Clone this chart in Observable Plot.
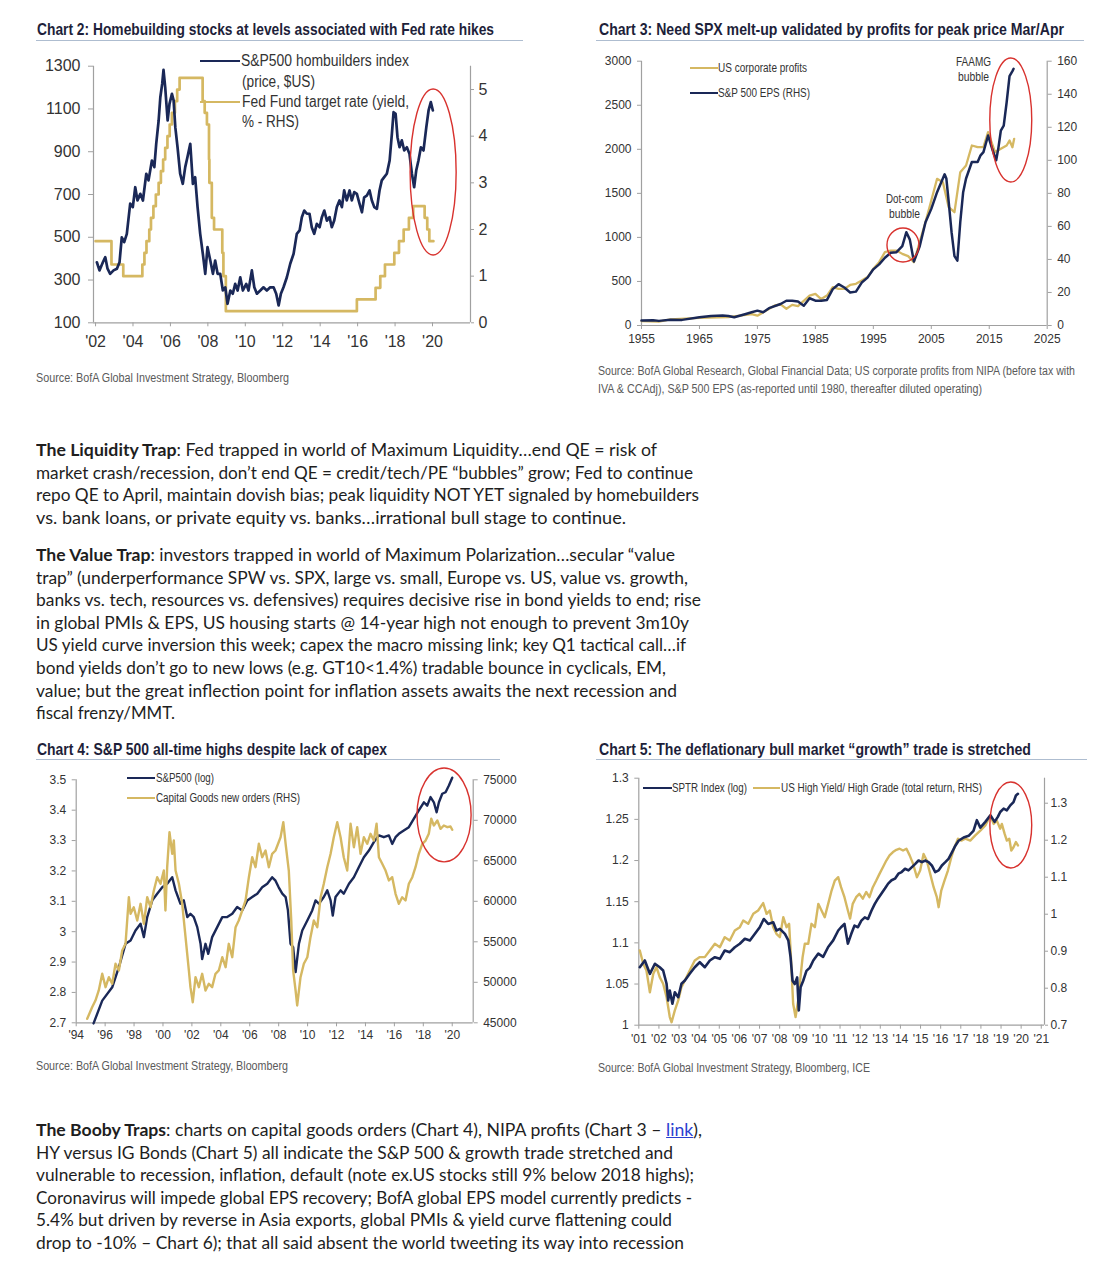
<!DOCTYPE html>
<html><head><meta charset="utf-8">
<script src="https://cdn.jsdelivr.net/npm/d3@7"></script>
<script src="https://cdn.jsdelivr.net/npm/@observablehq/plot@0.6"></script>
<style>
body{margin:0;background:#fff;}
#page{position:relative;width:1106px;height:1280px;overflow:hidden;background:#fff;}
.abs{position:absolute;white-space:nowrap;}
.fit{display:inline-block;transform-origin:0 50%;white-space:nowrap;}
.title{font-family:"Liberation Sans Narrow","Liberation Sans",sans-serif;font-weight:bold;font-size:17px;color:#1e1f3a;}
.src{font-family:"Liberation Sans Narrow","Liberation Sans",sans-serif;font-size:12px;color:#5a5a5a;}
.leg{font-family:"Liberation Sans Narrow","Liberation Sans",sans-serif;color:#333;}
.para{font-family:Lato,"Open Sans",sans-serif;font-size:17px;color:#1e1e1e;}
.para a{color:#2b3fd0;text-decoration:underline;}
.rule{position:absolute;height:1px;background:#aebdd0;}
</style></head>
<body><div id="page"></div>
<script>
// ---------------- DATA ----------------
// Chart 2: S&P500 homebuilders index and Fed funds target rate
const c2HbYear = [2002.07,2002.21,2002.39,2002.52,2002.64,2002.78,2002.96,2003.14,2003.28,2003.40,
  2003.53,2003.67,2003.85,2003.99,2004.12,2004.24,2004.39,2004.53,2004.71,2004.83,
  2005.01,2005.14,2005.24,2005.37,2005.46,2005.56,2005.63,2005.72,2005.85,2005.95,
  2006.08,2006.17,2006.26,2006.38,2006.52,2006.66,2006.79,2006.91,2007.06,2007.20,
  2007.32,2007.45,2007.59,2007.73,2007.86,2007.98,2008.13,2008.27,2008.39,2008.52,
  2008.66,2008.80,2008.93,2009.05,2009.20,2009.33,2009.46,2009.59,2009.73,2009.87,
  2010.05,2010.17,2010.35,2010.48,2010.62,2010.80,2010.97,2011.15,2011.33,2011.51,
  2011.65,2011.78,2011.90,2012.04,2012.22,2012.40,2012.58,2012.75,2012.90,2013.02,
  2013.15,2013.29,2013.43,2013.55,2013.68,2013.82,2013.97,2014.09,2014.22,2014.36,
  2014.50,2014.62,2014.75,2014.89,2015.03,2015.16,2015.28,2015.42,2015.57,2015.69,
  2015.82,2015.96,2016.10,2016.23,2016.35,2016.49,2016.64,2016.76,2016.89,2017.03,
  2017.17,2017.29,2017.42,2017.56,2017.71,2017.83,2017.92,2018.03,2018.13,2018.24,
  2018.36,2018.49,2018.63,2018.77,2018.90,2019.02,2019.13,2019.25,2019.38,2019.52,
  2019.67,2019.79,2019.91,2020.02];
const c2HbIndex = [383,345,383,407,353,329,345,353,383,500,
  477,516,657,641,734,672,703,672,797,766,
  859,828,937,1046,1155,1218,1283,1202,1046,1124,
  1171,1140,1015,921,797,750,828,875,937,750,
  781,641,516,423,329,454,391,329,391,329,
  329,251,266,189,251,236,282,251,313,251,
  282,251,345,266,236,251,266,251,266,266,
  236,181,236,266,313,376,423,516,532,594,
  625,610,610,547,516,563,547,594,625,578,
  594,547,578,641,672,641,719,672,719,672,
  711,703,657,617,687,695,719,672,641,633,
  719,766,781,797,859,984,1085,1077,968,921,
  953,906,921,890,797,734,812,859,921,906,
  1015,1093,1132,1093];
const c2FedYear = [2002.0,2002.85,2003.48,2004.5,2004.61,2004.72,2004.87,2004.96,2005.09,2005.22,
  2005.37,2005.49,2005.61,2005.72,2005.84,2005.96,2006.08,2006.24,2006.36,2006.49,
  2007.72,2007.83,2007.95,2008.06,2008.08,2008.21,2008.33,2008.77,2008.83,2008.96,
  2015.96,2016.96,2017.21,2017.46,2017.96,2018.21,2018.46,2018.74,2018.97,2019.58,
  2019.72,2019.83,2020.05];
const c2FedRate = [1.75,1.25,1.0,1.25,1.5,1.75,2.0,2.25,2.5,2.75,
  3.0,3.25,3.5,3.75,4.0,4.25,4.5,4.75,5.0,5.25,
  4.75,4.5,4.25,3.5,3.0,2.25,2.0,1.5,1.0,0.25,
  0.5,0.75,1.0,1.25,1.5,1.75,2.0,2.25,2.5,2.25,
  2.0,1.75,1.75];
const c2LeftTicks = [100,300,500,700,900,1100,1300];
const c2RightTicks = [0,1,2,3,4,5];
const c2XTicks = [2002,2004,2006,2008,2010,2012,2014,2016,2018,2020];

// Chart 3: US corporate profits and S&P 500 EPS
const c3EpsYear = [1955,1957,1958,1960,1962,1965,1967,1969,1970,1971,
  1973,1974,1975,1976,1977,1979,1980,1981,1982,1983,
  1984,1985,1986,1987,1988,1989,1990,1991,1992,1993,
  1994,1995,1996,1997,1998,1999,2000,2000.7,2001.3,2002,
  2003,2004,2005,2006,2007.3,2007.6,2008,2008.5,2009,2009.5,
  2010,2010.5,2011,2012,2013,2013.5,2014,2014.8,2015.5,2016.2,
  2016.6,2017,2017.5,2018,2018.5,2019,2019.2];
const c3Eps = [3.0,3.2,2.8,3.5,3.4,5.0,5.8,6.0,5.8,5.0,
  7.0,8.0,9.0,8.0,10.5,13,15,15,14.5,12,
  16.5,15,15,15.5,22,25,23,20,20.5,26,
  29,34,37,41,44,44.4,48,56.5,52,38.7,
  48,62.5,70.6,80.7,91.5,89,75,56.5,42,39.3,
  62.5,80.7,89,99,99,103,105,115,107,100,
  108,118,121,135,151,154,155.4];
const c3ProfYear = [1955,1958,1960,1965,1970,1974,1975,1978,1979,1980,
  1981,1982,1984,1985,1986,1987,1988,1989,1990,1991,
  1992,1993,1994,1995,1996,1997,1998,1999,2000,2001,
  2002,2003,2004,2005,2006,2007,2008,2009,2010,2011,
  2012,2013,2014,2014.8,2015.5,2016,2017,2018,2018.5,2019,
  2019.3];
const c3Profits = [50,45,70,87,95,130,112,227,240,190,
  234,220,340,360,300,340,435,416,416,460,
  473,510,550,643,719,832,851,851,813,787,
  719,946,1173,1419,1665,1627,1343,1286,1740,1816,
  2043,2024,2024,2194,2062,1967,2005,2043,2100,2024,
  2119];
const c3LeftTicks = [0,500,1000,1500,2000,2500,3000];
const c3RightTicks = [0,20,40,60,80,100,120,140,160];
const c3XTicks = [1955,1965,1975,1985,1995,2005,2015,2025];

// Chart 4: S&P500 (log) and capital goods new orders
const c4SpxYear = [1995.20,1995.80,1996.49,1996.95,1997.41,1997.76,1998.10,1998.45,1998.68,1998.91,
  1999.26,1999.60,1999.95,2000.29,2000.64,2000.87,2001.21,2001.44,2001.68,2001.90,
  2002.13,2002.37,2002.60,2002.71,2002.94,2003.13,2003.40,2003.75,2004.10,2004.44,
  2004.79,2005.13,2005.48,2005.83,2006.17,2006.52,2006.86,2007.21,2007.55,2007.78,
  2008.00,2008.25,2008.48,2008.64,2008.82,2009.00,2009.17,2009.40,2009.63,2009.98,
  2010.32,2010.55,2010.78,2011.12,2011.36,2011.59,2011.74,2011.93,2012.28,2012.50,
  2012.86,2013.20,2013.54,2013.89,2014.24,2014.58,2014.93,2015.27,2015.62,2015.85,
  2016.08,2016.31,2016.65,2017.00,2017.35,2017.69,2018.04,2018.27,2018.50,2018.73,
  2018.92,2019.08,2019.31,2019.54,2019.77,2020.00];
const c4SpxLog = [2.698,2.773,2.817,2.883,2.960,2.971,3.004,3.026,2.982,3.048,
  3.103,3.125,3.146,3.158,3.179,3.136,3.092,3.103,3.048,3.059,
  3.048,3.015,2.960,2.910,2.960,2.927,2.982,3.015,3.048,3.048,
  3.059,3.081,3.070,3.103,3.114,3.125,3.146,3.158,3.179,3.168,
  3.146,3.125,3.114,3.070,2.960,2.949,2.867,2.960,3.004,3.037,
  3.070,3.103,3.092,3.114,3.136,3.103,3.053,3.114,3.136,3.125,
  3.158,3.179,3.212,3.245,3.267,3.295,3.317,3.311,3.317,3.289,
  3.311,3.322,3.333,3.344,3.372,3.399,3.426,3.415,3.443,3.426,
  3.393,3.426,3.454,3.459,3.481,3.507];
const c4CapYear = [1994.76,1995.10,1995.33,1995.56,1995.80,1996.03,1996.26,1996.49,1996.72,1996.95,
  1997.18,1997.41,1997.64,1997.76,1997.98,1998.22,1998.45,1998.68,1998.91,1999.14,
  1999.37,1999.60,1999.83,2000.06,2000.17,2000.29,2000.45,2000.64,2000.75,2000.87,
  2001.10,2001.33,2001.56,2001.79,2001.90,2002.06,2002.25,2002.48,2002.71,2002.94,
  2003.17,2003.40,2003.63,2003.86,2004.10,2004.33,2004.55,2004.79,2005.02,2005.24,
  2005.48,2005.71,2005.94,2006.17,2006.40,2006.63,2006.86,2007.09,2007.32,2007.55,
  2007.78,2008.13,2008.32,2008.48,2008.70,2008.87,2009.00,2009.17,2009.28,2009.51,
  2009.74,2009.98,2010.20,2010.43,2010.67,2010.90,2011.12,2011.36,2011.59,2011.81,
  2012.05,2012.28,2012.50,2012.74,2012.97,2013.20,2013.43,2013.66,2013.89,2014.12,
  2014.35,2014.58,2014.77,2014.93,2015.16,2015.39,2015.62,2015.85,2016.08,2016.31,
  2016.54,2016.77,2017.00,2017.24,2017.46,2017.69,2017.93,2018.16,2018.38,2018.55,
  2018.73,2018.97,2019.19,2019.42,2019.66,2019.88,2020.00];
const c4CapOrders = [45494,46925,47750,48990,51050,49400,50630,49815,52285,51460,
  53925,54750,60500,58460,59270,57630,59690,57220,60500,59270,
  61330,62975,62160,63800,58865,64210,68530,65860,67500,63800,
  62160,59690,55570,51460,49400,47540,50630,49400,51050,48990,
  49815,49400,51050,51460,53100,51860,54750,53100,56800,57630,
  58865,60100,62975,65445,64210,67100,65445,66270,64210,65860,
  66270,67910,69770,67100,63800,57630,51460,48990,47140,50630,
  52285,53100,55570,57630,56800,60500,62160,64210,65860,67910,
  69770,67910,65445,63800,69570,66680,69150,65860,67910,67100,
  68335,67500,69570,65445,64630,63800,62570,62975,60925,59690,
  60500,60100,62160,62975,64210,65860,67100,67500,68335,70190,
  69360,69980,68950,69360,69150,69240,68830];
const c4LeftTicks = [2.7,2.8,2.9,3.0,3.1,3.2,3.3,3.4,3.5];
const c4RightTicks = [45000,50000,55000,60000,65000,70000,75000];
const c4XTicks = [1994,1996,1998,2000,2002,2004,2006,2008,2010,2012,2014,2016,2018,2020];

// Chart 5: SPTR (log) and US high yield / high grade total return
const c5SptrYear = [2001.05,2001.30,2001.55,2001.80,2002.04,2002.21,2002.38,2002.46,2002.54,2002.67,
  2002.79,2002.96,2003.12,2003.29,2003.53,2003.78,2004.03,2004.28,2004.53,2004.78,
  2005.03,2005.27,2005.52,2005.77,2006.02,2006.27,2006.52,2006.77,2007.01,2007.21,
  2007.43,2007.68,2007.84,2008.01,2008.26,2008.43,2008.54,2008.64,2008.75,2008.87,
  2008.95,2009.04,2009.17,2009.33,2009.50,2009.67,2009.92,2010.16,2010.41,2010.66,
  2010.91,2011.05,2011.22,2011.39,2011.56,2011.72,2011.89,2012.06,2012.23,2012.39,
  2012.56,2012.72,2012.89,2013.06,2013.23,2013.39,2013.56,2013.73,2013.90,2014.06,
  2014.23,2014.40,2014.57,2014.74,2014.90,2015.07,2015.23,2015.40,2015.56,2015.73,
  2015.90,2016.06,2016.23,2016.39,2016.56,2016.73,2016.89,2017.14,2017.39,2017.63,
  2017.80,2017.97,2018.22,2018.47,2018.68,2018.84,2018.96,2019.13,2019.29,2019.46,
  2019.62,2019.74,2019.84];
const c5SptrLog = [1.0704,1.0786,1.0624,1.0746,1.0704,1.0664,1.0503,1.030,1.042,1.026,
  1.040,1.034,1.0503,1.0543,1.0624,1.0704,1.0765,1.0704,1.0786,1.0826,
  1.0806,1.0907,1.0887,1.0947,1.0989,1.105,1.1029,1.111,1.119,1.129,
  1.123,1.125,1.115,1.117,1.111,1.103,1.083,1.054,1.050,1.058,
  1.018,1.046,1.054,1.066,1.070,1.0786,1.087,1.083,1.095,1.103,
  1.115,1.119,1.123,1.099,1.111,1.121,1.119,1.127,1.131,1.129,
  1.139,1.147,1.154,1.160,1.166,1.172,1.176,1.178,1.184,1.186,
  1.190,1.188,1.192,1.196,1.200,1.198,1.200,1.198,1.194,1.186,
  1.188,1.194,1.198,1.202,1.210,1.218,1.224,1.228,1.230,1.236,
  1.249,1.240,1.247,1.255,1.247,1.253,1.259,1.263,1.261,1.267,
  1.271,1.279,1.281];
const c5HyYear = [2001.05,2001.22,2001.38,2001.55,2001.72,2001.88,2002.04,2002.21,2002.38,2002.54,
  2002.63,2002.79,2002.96,2003.12,2003.29,2003.53,2003.78,2004.03,2004.28,2004.53,
  2004.78,2005.03,2005.27,2005.52,2005.77,2006.02,2006.19,2006.44,2006.69,2006.93,
  2007.18,2007.35,2007.51,2007.68,2007.84,2008.01,2008.18,2008.34,2008.47,2008.56,
  2008.67,2008.79,2008.92,2009.00,2009.14,2009.25,2009.42,2009.58,2009.75,2009.92,
  2010.08,2010.24,2010.41,2010.58,2010.74,2010.91,2011.05,2011.22,2011.39,2011.50,
  2011.63,2011.80,2011.96,2012.13,2012.30,2012.46,2012.63,2012.80,2012.96,2013.13,
  2013.30,2013.46,2013.63,2013.80,2013.96,2014.13,2014.30,2014.46,2014.63,2014.82,
  2014.98,2015.15,2015.31,2015.48,2015.65,2015.81,2015.90,2016.03,2016.19,2016.36,
  2016.53,2016.69,2016.86,2017.03,2017.22,2017.47,2017.72,2017.97,2018.22,2018.47,
  2018.63,2018.79,2018.96,2019.04,2019.18,2019.29,2019.41,2019.51,2019.62,2019.74,
  2019.84];
const c5HyHg = [0.902,0.866,0.848,0.789,0.839,0.857,0.830,0.812,0.776,0.722,
  0.708,0.740,0.767,0.803,0.821,0.848,0.875,0.884,0.884,0.902,
  0.920,0.911,0.938,0.929,0.956,0.965,0.983,0.974,1.001,1.010,
  1.030,1.001,1.010,0.965,0.947,0.938,0.992,0.965,0.974,0.884,
  0.758,0.722,0.767,0.812,0.884,0.920,0.920,0.974,0.965,1.028,
  1.010,0.992,1.028,1.064,1.091,1.100,1.073,1.046,1.010,0.988,
  1.028,1.046,1.055,1.042,1.060,1.046,1.073,1.091,1.109,1.127,
  1.145,1.159,1.168,1.174,1.177,1.172,1.177,1.159,1.136,1.100,
  1.118,1.163,1.145,1.109,1.073,1.046,1.019,1.064,1.091,1.118,
  1.154,1.181,1.204,1.199,1.204,1.199,1.213,1.226,1.240,1.267,
  1.244,1.253,1.231,1.244,1.217,1.199,1.204,1.172,1.181,1.195,
  1.186];
const c5LeftTicks = [1.0,1.05,1.1,1.15,1.2,1.25,1.3];
const c5RightTicks = [0.7,0.8,0.9,1.0,1.1,1.2,1.3];
const c5XTicks = [2001,2002,2003,2004,2005,2006,2007,2008,2009,2010,2011,2012,2013,2014,2015,2016,2017,2018,2019,2020,2021];

// ---------------- HELPERS ----------------
const NAVY = "#1a2857", GOLD = "#d5b862", AXIS = "#a0a0a0", RED = "#d8322e";
const page = document.getElementById("page");
const NARROW = "'Liberation Sans Narrow','Liberation Sans',Arial,sans-serif";

function putText(html, x, cy, o) {
  const lh = o.lh || 20;
  const d = document.createElement("div");
  d.className = "abs " + (o.cls || "");
  d.style.left = x + "px";
  d.style.top = (cy - lh / 2) + "px";
  d.style.lineHeight = lh + "px";
  if (o.size) d.style.fontSize = o.size + "px";
  const s = document.createElement("span");
  s.className = "fit";
  s.innerHTML = html;
  d.appendChild(s);
  page.appendChild(d);
  const w0 = s.getBoundingClientRect().width;
  if (o.w && w0 > 0) s.style.transform = `scaleX(${o.w / w0})`;
  if (o.center) d.style.left = (x - (o.w || w0) / 2) + "px";
  return d;
}
function putRule(x0, x1, y) {
  const d = document.createElement("div");
  d.className = "rule";
  d.style.left = x0 + "px"; d.style.width = (x1 - x0) + "px"; d.style.top = y + "px";
  page.appendChild(d);
}
function legendLine(x0, x1, y, color, w) {
  const d = document.createElement("div");
  d.style.position = "absolute";
  d.style.left = x0 + "px"; d.style.width = (x1 - x0) + "px";
  d.style.top = (y - w / 2) + "px"; d.style.height = w + "px";
  d.style.background = color;
  page.appendChild(d);
}
const trim = v => String(+(+v).toFixed(3));
const apos = d => "'" + String(d).slice(2);

function dualChart(c) {
  const toL = d3.scaleLinear().domain(c.rDomain).range(c.yDomain);
  const rMap = new Map(c.rTicks.map(t => [toL(t).toFixed(6), c.rFmt(t)]));
  const seriesMarks = c.series.map(s => {
    const n = Math.min(s.x.length, s.y.length);
    const rows = d3.range(n).map(i => ({x: s.x[i], y: s.right ? toL(s.y[i]) : s.y[i]}));
    return Plot.line(rows, {x: "x", y: "y", stroke: s.color, strokeWidth: s.w,
      curve: s.curve || "linear", strokeLinejoin: "round"});
  });
  const svg = Plot.plot({
    width: c.width, height: c.height,
    marginLeft: c.ml, marginRight: c.mr, marginTop: c.mt, marginBottom: c.mb,
    x: {domain: c.xDomain},
    y: {domain: c.yDomain},
    style: {fontFamily: NARROW, fontSize: c.fs + "px", color: "#333", background: "transparent", overflow: "visible"},
    marks: [
      Plot.ruleY([c.yDomain[0]], {stroke: AXIS, strokeWidth: 1.2}),
      Plot.ruleX([c.xDomain[0]], {stroke: AXIS, strokeWidth: 1.2}),
      Plot.ruleX([c.xDomain[1]], {stroke: AXIS, strokeWidth: 1.2}),
      Plot.axisY(c.yTicks, {anchor: "left", tickSize: c.lts, tickPadding: c.lpad, tickFormat: c.yFmt,
        label: null, stroke: AXIS, fill: "#333", fontSize: c.fs}),
      Plot.axisY(c.rTicks.map(t => toL(t)), {anchor: "right", tickSize: c.rts, tickPadding: c.rpad,
        tickFormat: d => rMap.get((+d).toFixed(6)), label: null, stroke: AXIS, fill: "#333", fontSize: c.fs}),
      Plot.axisX(c.xTicks, {anchor: "bottom", tickSize: c.xts, tickPadding: c.xpad, tickFormat: c.xFmt,
        label: null, stroke: AXIS, fill: "#333", fontSize: c.fs}),
      ...seriesMarks
    ]
  });
  svg.style.position = "absolute";
  svg.style.left = c.left + "px";
  svg.style.top = c.top + "px";
  svg.style.maxWidth = "none";
  const sx = svg.scale("x"), sy = svg.scale("y");
  (c.ellipses || []).forEach(e => {
    const x0 = sx.apply(e.x[0]), x1 = sx.apply(e.x[1]);
    const y0 = sy.apply(e.y[0]), y1 = sy.apply(e.y[1]);
    d3.select(svg).append("ellipse")
      .attr("cx", (x0 + x1) / 2).attr("cy", (y0 + y1) / 2)
      .attr("rx", Math.abs(x1 - x0) / 2).attr("ry", Math.abs(y1 - y0) / 2)
      .attr("fill", "none").attr("stroke", RED).attr("stroke-width", 1.4);
  });
  page.appendChild(svg);
  return svg;
}

// ---------------- CHART 2 ----------------
putText("Chart 2: Homebuilding stocks at levels associated with Fed rate hikes", 37, 30, {cls: "title", w: 457, lh: 22});
putRule(36, 523, 40);
dualChart({
  left: 30, top: 45, width: 470, height: 320, ml: 63, mr: 30, mt: 20.7, mb: 42.7,
  xDomain: [2001.89, 2022.03], yDomain: [100, 1300], rDomain: [0, 5.5],
  yTicks: c2LeftTicks, yFmt: d => String(d), rTicks: c2RightTicks, rFmt: d => String(d),
  xTicks: c2XTicks, xFmt: apos, fs: 16,
  lts: 5, lpad: 8, rts: 3, rpad: 5, xts: 4, xpad: 9,
  series: [
    {x: c2FedYear, y: c2FedRate, right: true, color: GOLD, w: 2.7, curve: "step-after"},
    {x: c2HbYear, y: c2HbIndex, color: NAVY, w: 2.7}
  ],
  ellipses: [{x: [2018.83, 2021.29], y: [415, 1191]}]
});
legendLine(200, 240, 61, NAVY, 2.7);
putText("S&amp;P500 hombuilders index", 241, 61, {cls: "leg", size: 16, w: 168});
putText("(price, $US)", 242, 82, {cls: "leg", size: 16, w: 73});
legendLine(200, 240, 102, GOLD, 2.7);
putText("Fed Fund target rate (yield,", 242, 102, {cls: "leg", size: 16, w: 167});
putText("% - RHS)", 242, 122, {cls: "leg", size: 16, w: 57});
putText("Source: BofA Global Investment Strategy, Bloomberg", 36, 378, {cls: "src", w: 253});

// ---------------- CHART 3 ----------------
putText("Chart 3: Need SPX melt-up validated by profits for peak price Mar/Apr", 599, 30, {cls: "title", w: 465, lh: 22});
putRule(596, 1084, 40);
dualChart({
  left: 590, top: 45, width: 500, height: 310, ml: 51, mr: 43.3, mt: 15.7, mb: 30,
  xDomain: [1955, 2025], yDomain: [0, 3000], rDomain: [0, 160],
  yTicks: c3LeftTicks, yFmt: d => String(d), rTicks: c3RightTicks, rFmt: d => String(d),
  xTicks: c3XTicks, xFmt: d => String(d), fs: 12,
  lts: 4, lpad: 6, rts: 4, rpad: 6, xts: 4, xpad: 5,
  series: [
    {x: c3ProfYear, y: c3Profits, color: GOLD, w: 2.3},
    {x: c3EpsYear, y: c3Eps, right: true, color: NAVY, w: 2.5}
  ],
  ellipses: [{x: [1997.44, 2002.96], y: [715, 1101]}, {x: [2015.18, 2022.42], y: [1623, 3031]}]
});
legendLine(690, 718, 68, GOLD, 2.3);
putText("US corporate profits", 718, 68, {cls: "leg", size: 12, w: 89});
legendLine(690, 718, 93, NAVY, 2.5);
putText("S&amp;P 500 EPS (RHS)", 718, 93, {cls: "leg", size: 12, w: 92});
putText("FAAMG", 973, 62, {cls: "leg", size: 12, w: 35, center: true});
putText("bubble", 973, 77, {cls: "leg", size: 12, w: 31, center: true});
putText("Dot-com", 904, 199, {cls: "leg", size: 12, w: 37, center: true});
putText("bubble", 904, 214, {cls: "leg", size: 12, w: 31, center: true});
putText("Source: BofA Global Research, Global Financial Data; US corporate profits from NIPA (before tax with", 598, 371, {cls: "src", w: 477});
putText("IVA &amp; CCAdj), S&amp;P 500 EPS (as-reported until 1980, thereafter diluted operating)", 598, 389, {cls: "src", w: 384});

// ---------------- TEXT BLOCKS ----------------
const para1 = [
  "<b>The Liquidity Trap</b>: Fed trapped in world of Maximum Liquidity…end QE = risk of",
  "market crash/recession, don’t end QE = credit/tech/PE “bubbles” grow; Fed to continue",
  "repo QE to April, maintain dovish bias; peak liquidity NOT YET signaled by homebuilders",
  "vs. bank loans, or private equity vs. banks…irrational bull stage to continue."
];
const para1W = [621, 657, 663, 590];
const para2 = [
  "<b>The Value Trap</b>: investors trapped in world of Maximum Polarization…secular “value",
  "trap” (underperformance SPW vs. SPX, large vs. small, Europe vs. US, value vs. growth,",
  "banks vs. tech, resources vs. defensives) requires decisive rise in bond yields to end; rise",
  "in global PMIs &amp; EPS, US housing starts @ 14-year high not enough to prevent 3m10y",
  "US yield curve inversion this week; capex the macro missing link; key Q1 tactical call…if",
  "bond yields don’t go to new lows (e.g. GT10&lt;1.4%) tradable bounce in cyclicals, EM,",
  "value; but the great inflection point for inflation assets awaits the next recession and",
  "fiscal frenzy/MMT."
];
const para2W = [639, 652, 665, 653, 650, 630, 641, 139];
const para3 = [
  "<b>The Booby Traps</b>: charts on capital goods orders (Chart 4), NIPA profits (Chart 3 – <a>link</a>),",
  "HY versus IG Bonds (Chart 5) all indicate the S&amp;P 500 &amp; growth trade stretched and",
  "vulnerable to recession, inflation, default (note ex.US stocks still 9% below 2018 highs);",
  "Coronavirus will impede global EPS recovery; BofA global EPS model currently predicts -",
  "5.4% but driven by reverse in Asia exports, global PMIs &amp; yield curve flattening could",
  "drop to -10% – Chart 6); that all said absent the world tweeting its way into recession"
];
const para3W = [666, 637, 658, 656, 636, 648];
para1.forEach((t, i) => putText(t, 36, 450 + i * 22.7, {cls: "para", w: para1W[i], lh: 22}));
para2.forEach((t, i) => putText(t, 36, 555 + i * 22.6, {cls: "para", w: para2W[i], lh: 22}));
para3.forEach((t, i) => putText(t, 36, 1130 + i * 22.6, {cls: "para", w: para3W[i], lh: 22}));

// ---------------- CHART 4 ----------------
putText("Chart 4: S&amp;P 500 all-time highs despite lack of capex", 37, 750, {cls: "title", w: 350, lh: 22});
putRule(36, 500, 759);
dualChart({
  left: 30, top: 765, width: 500, height: 290, ml: 45.7, mr: 57.3, mt: 14.3, mb: 32.7,
  xDomain: [1994, 2021.45], yDomain: [2.7, 3.5], rDomain: [45000, 75000],
  yTicks: c4LeftTicks, yFmt: trim, rTicks: c4RightTicks, rFmt: d => String(d),
  xTicks: c4XTicks, xFmt: apos, fs: 12,
  lts: 4, lpad: 6, rts: 4, rpad: 6, xts: 4, xpad: 4,
  series: [
    {x: c4SpxYear, y: c4SpxLog, color: NAVY, w: 2.4},
    {x: c4CapYear, y: c4CapOrders, right: true, color: GOLD, w: 2.4}
  ],
  ellipses: [{x: [2017.6, 2021.34], y: [3.228, 3.537]}]
});
legendLine(127, 155, 778, NAVY, 2.4);
putText("S&amp;P500 (log)", 156, 778, {cls: "leg", size: 12, w: 58});
legendLine(127, 155, 798, GOLD, 2.4);
putText("Capital Goods new orders (RHS)", 156, 798, {cls: "leg", size: 12, w: 144});
putText("Source: BofA Global Investment Strategy, Bloomberg", 36, 1066, {cls: "src", w: 252});

// ---------------- CHART 5 ----------------
putText("Chart 5: The deflationary bull market “growth” trade is stretched", 599, 750, {cls: "title", w: 432, lh: 22});
putRule(596, 1087, 759);
dualChart({
  left: 590, top: 765, width: 500, height: 290, ml: 48.3, mr: 46, mt: 12.7, mb: 30.3,
  xDomain: [2001, 2021.16], yDomain: [1.0, 1.3], rDomain: [0.7, 1.3676],
  yTicks: c5LeftTicks, yFmt: trim, rTicks: c5RightTicks, rFmt: trim,
  xTicks: c5XTicks, xFmt: apos, fs: 12,
  lts: 4, lpad: 6, rts: 3, rpad: 3, xts: 4, xpad: 5,
  series: [
    {x: c5HyYear, y: c5HyHg, right: true, color: GOLD, w: 2.4},
    {x: c5SptrYear, y: c5SptrLog, color: NAVY, w: 2.6}
  ],
  ellipses: [{x: [2018.47, 2020.55], y: [1.1904, 1.2948]}]
});
legendLine(643, 672, 788, NAVY, 2.6);
putText("SPTR Index (log)", 672, 788, {cls: "leg", size: 12, w: 75});
legendLine(753, 780, 788, GOLD, 2.4);
putText("US High Yield/ High Grade (total return, RHS)", 781, 788, {cls: "leg", size: 12, w: 201});
putText("Source: BofA Global Investment Strategy, Bloomberg, ICE", 598, 1068, {cls: "src", w: 272});
</script>
</body></html>
